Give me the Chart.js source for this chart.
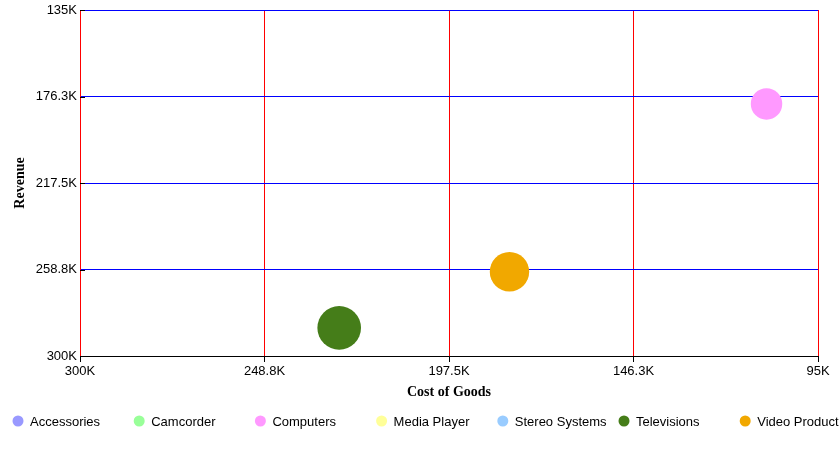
<!DOCTYPE html>
<html lang="en">
<head>
    <meta charset="UTF-8">
    <title>Cost of Goods vs Revenue</title>
    <script src="https://cdn.jsdelivr.net/npm/chart.js"></script>
    <style>
        html, body {
            margin: 0;
            padding: 0;
            background: #ffffff;
        }
        #wrap {
            width: 839px;
            height: 454px;
        }
    </style>
</head>
<body>

    <div id="wrap"><canvas id="bubbleChart"></canvas></div>

    <script>
        // data
        const categories = ["Accessories", "Camcorder", "Computers", "Media Player", "Stereo Systems", "Televisions", "Video Products"];
        const costOfGoods = [null, null, 109300, null, null, 228000, 180700];
        const revenue = [null, null, 179800, null, null, 286600, 259800];
        const bubbleSize = [null, null, 520, null, null, 1000, 817];
        const colors = ["#9999ff", "#99ff99", "#ff99ff", "#ffff99", "#99ccff", "#457d19", "#f1a800"];

        const xTickValues = [300000, 248750, 197500, 146250, 95000];
        const xTickLabels = ["300K", "248.8K", "197.5K", "146.3K", "95K"];
        const yTickValues = [135000, 176250, 217500, 258750, 300000];
        const yTickLabels = ["135K", "176.3K", "217.5K", "258.8K", "300K"];

        const maxRadius = 21.8;
        const maxSize = Math.max(...bubbleSize.filter(v => v != null));

        const datasets = categories.map((name, i) => ({
            label: name,
            data: costOfGoods[i] == null ? [] : [{
                x: costOfGoods[i],
                y: revenue[i],
                r: maxRadius * Math.sqrt(bubbleSize[i] / maxSize)
            }],
            backgroundColor: colors[i],
            borderWidth: 0,
            hoverBorderWidth: 0
        }));

        function fixTicks(values) {
            return function (scale) {
                scale.ticks = values.map(v => ({ value: v }));
            };
        }

        // y tick marks point inward, legend uses fixed columns
        const extras = {
            id: "extras",
            afterDraw(chart) {
                const ctx = chart.ctx;
                const area = chart.chartArea;
                const y = chart.scales.y;
                ctx.save();
                ctx.strokeStyle = "#000";
                ctx.lineWidth = 1;
                yTickValues.forEach(v => {
                    const py = Math.round(y.getPixelForValue(v)) + 0.5;
                    ctx.beginPath();
                    ctx.moveTo(area.left, py);
                    ctx.lineTo(area.left + 5, py);
                    ctx.stroke();
                });

                ctx.font = "13px 'Liberation Sans', Arial, sans-serif";
                ctx.textBaseline = "middle";
                ctx.textAlign = "left";
                categories.forEach((name, i) => {
                    const cx = 18 + i * 121.2;
                    const cy = 421;
                    ctx.fillStyle = colors[i];
                    ctx.beginPath();
                    ctx.arc(cx, cy, 5.5, 0, Math.PI * 2);
                    ctx.fill();
                    ctx.fillStyle = "#000";
                    ctx.fillText(name, cx + 12, cy + 1);
                });
                ctx.restore();
            }
        };

        const tickFont = { family: "'Liberation Sans', Arial, sans-serif", size: 13 };
        const titleFont = { family: "'Liberation Serif', 'Times New Roman', serif", size: 14, weight: "bold" };

        new Chart(document.getElementById("bubbleChart"), {
            type: "bubble",
            data: { datasets: datasets },
            options: {
                responsive: true,
                maintainAspectRatio: false,
                animation: false,
                layout: {
                    autoPadding: false,
                    padding: { top: 10, right: 21, bottom: 48, left: 0 }
                },
                plugins: {
                    legend: { display: false },
                    tooltip: { enabled: false }
                },
                scales: {
                    x: {
                        type: "linear",
                        reverse: true,
                        min: 95000,
                        max: 300000,
                        afterBuildTicks: fixTicks(xTickValues),
                        afterFit(scale) {
                            scale.height = 50;
                            scale.paddingLeft = 0;
                            scale.paddingRight = 0;
                        },
                        grid: {
                            color: "#ff0000",
                            tickColor: "#000",
                            tickLength: 6,
                            lineWidth: 1
                        },
                        border: { color: "#000", width: 1 },
                        ticks: {
                            color: "#000",
                            font: tickFont,
                            padding: 2,
                            maxRotation: 0,
                            callback: (v, i) => xTickLabels[i]
                        },
                        title: {
                            display: true,
                            text: "Cost of Goods",
                            color: "#000",
                            font: titleFont,
                            padding: { top: 0, bottom: 5 }
                        }
                    },
                    y: {
                        type: "linear",
                        reverse: true,
                        min: 135000,
                        max: 300000,
                        afterBuildTicks: fixTicks(yTickValues),
                        afterFit(scale) {
                            scale.width = 80;
                            scale.paddingTop = 0;
                            scale.paddingBottom = 0;
                        },
                        grid: {
                            color: ctx => (ctx.tick && ctx.tick.value === 300000) ? "#000" : "#0000ff",
                            drawTicks: false,
                            lineWidth: 1
                        },
                        border: { color: "#ff0000", width: 1 },
                        ticks: {
                            color: "#000",
                            font: tickFont,
                            padding: 3,
                            callback: (v, i) => yTickLabels[i]
                        },
                        title: {
                            display: true,
                            text: "Revenue",
                            color: "#000",
                            font: titleFont,
                            padding: { top: 12, bottom: 0 }
                        }
                    }
                }
            },
            plugins: [extras]
        });
    </script>

</body>
</html>
